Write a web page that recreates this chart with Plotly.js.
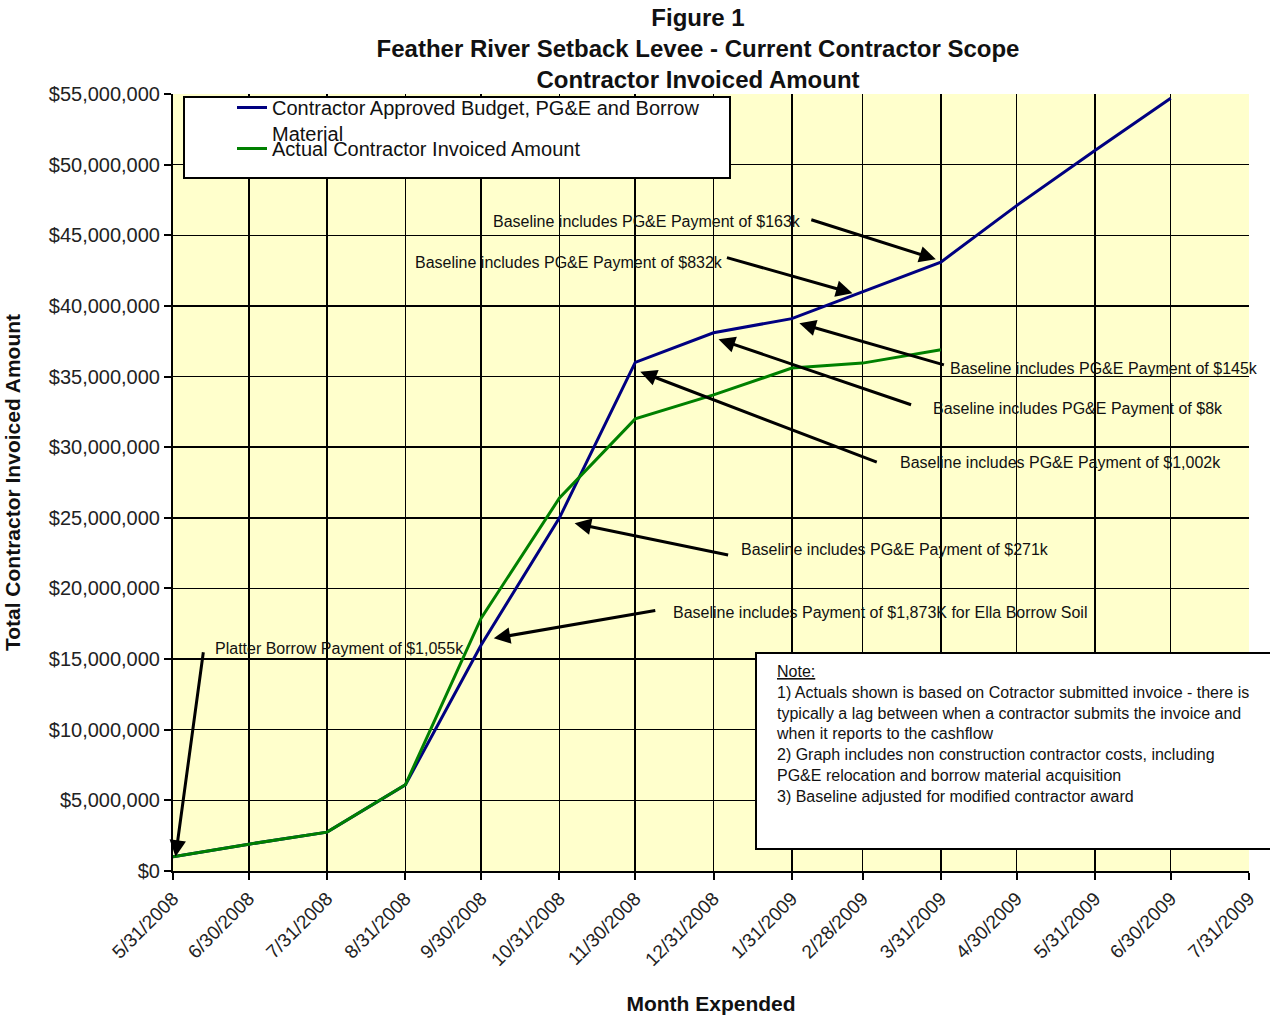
<!DOCTYPE html>
<html>
<head>
<meta charset="utf-8">
<script src="https://cdn.plot.ly/plotly-3.0.1.min.js"></script>
<style>html,body{margin:0;padding:0;background:#fff;}#chart{width:1270px;height:1019px;}</style>
</head>
<body>
<div id="chart"></div>
<script>
// ---- data ----
const months = ['2008-05-31','2008-06-30','2008-07-31','2008-08-31','2008-09-30','2008-10-31','2008-11-30',
                '2008-12-31','2009-01-31','2009-02-28','2009-03-31','2009-04-30','2009-05-31','2009-06-30'];
const tickDates = ['2008-05-31','2008-06-30','2008-07-31','2008-08-31','2008-09-30','2008-10-31','2008-11-30',
                   '2008-12-31','2009-01-31','2009-02-28','2009-03-31','2009-04-30','2009-05-31','2009-06-30','2009-07-31'];
const tickLabels = ['5/31/2008','6/30/2008','7/31/2008','8/31/2008','9/30/2008','10/31/2008','11/30/2008',
                    '12/31/2008','1/31/2009','2/28/2009','3/31/2009','4/30/2009','5/31/2009','6/30/2009','7/31/2009'];
const budgetName = 'Contractor Approved Budget, PG&E and Borrow<br>Material';
const actualName = 'Actual Contractor Invoiced Amount';
const budget = [1000000, 1900000, 2750000, 6100000, 16000000, 25000000, 36000000,
                38100000, 39100000, 41000000, 43100000, 47100000, 51000000, 54700000];
const actual = [1000000, 1900000, 2750000, 6100000, 17900000, 26400000, 32000000,
                33700000, 35600000, 35950000, 36900000];

// callouts: text, arrow head (date, value), text left edge (date, value)
const calloutText = [
  'Baseline includes PG&E Payment of $163k',
  'Baseline includes PG&E Payment of $832k',
  'Baseline includes PG&E Payment of $145k',
  'Baseline includes PG&E Payment of $8k',
  'Baseline includes PG&E Payment of $1,002k',
  'Baseline includes PG&E Payment of $271k',
  'Baseline includes Payment of $1,873K for Ella Borrow Soil',
  'Platter Borrow Payment of $1,055k'
];
const headDate  = ['2009-03-29','2009-02-24','2009-02-03','2009-01-02','2008-12-02','2008-11-06','2008-10-05','2008-06-01'];
const headValue = [43300000, 40900000, 38770000, 37640000, 35340000, 24610000, 16470000, 1010000];
const textDate  = ['2008-10-04','2008-09-03','2009-04-03','2009-03-27','2009-03-14','2009-01-10','2008-12-14','2008-06-16'];
const textValue = [46000000, 43070000, 35600000, 32770000, 28920000, 22790000, 18300000, 15760000];

const noteLines = [
  '<u>Note:</u>',
  '1) Actuals shown is based on Cotractor submitted invoice - there is',
  'typically a lag between when a contractor submits the invoice and',
  'when it reports to the cashflow',
  '2) Graph includes non construction contractor costs, including',
  'PG&E relocation and borrow material acquisition',
  '3) Baseline adjusted for modified contractor award'
];

// ---- layout helpers (pixel geometry of plot area) ----
const W = 1270, H = 1019, L = 173, R = 1249, T = 94, B = 871;
const px = x => (x - L) / (R - L);
const py = y => (B - y) / (B - T);
const arrowOff = [[-126,-40],[-127,-36],[146,42],[194,66],[238,91],[155,32],[163,-28],[28,-206]];

const FONT = 'Liberation Sans, Arial, sans-serif';

const traces = [
  {x: months, y: budget, name: budgetName, type: 'scatter', mode: 'lines', legend: 'legend',
   line: {color: '#000080', width: 3}},
  {x: months.slice(0, actual.length), y: actual, name: actualName, type: 'scatter', mode: 'lines', legend: 'legend2',
   line: {color: '#008000', width: 3}}
];

const annotations = [];
calloutText.forEach((t, i) => {
  annotations.push({x: headDate[i], y: headValue[i], xref: 'x', yref: 'y', text: '',
    showarrow: true, arrowhead: 2, arrowsize: 1.1, arrowwidth: 3, arrowcolor: '#000',
    ax: arrowOff[i][0], ay: arrowOff[i][1], standoff: 0});
  annotations.push({x: textDate[i], y: textValue[i], xref: 'x', yref: 'y', text: t,
    showarrow: false, xanchor: 'left', yanchor: 'middle',
    font: {family: FONT, size: 16, color: '#111'}});
});
annotations.push({x: px(774), y: py(661), xref: 'paper', yref: 'paper', xanchor: 'left', yanchor: 'top',
  align: 'left', showarrow: false, text: noteLines.join('<br>'),
  font: {family: FONT, size: 16, color: '#111'}});

const shapes = [
  {type: 'rect', xref: 'paper', yref: 'paper', x0: px(184), x1: px(730), y0: py(178), y1: py(97),
   fillcolor: '#fff', line: {color: '#000', width: 2}, layer: 'above'},
  {type: 'rect', xref: 'paper', yref: 'paper', x0: px(756), x1: px(1290), y0: py(849), y1: py(653),
   fillcolor: '#fff', line: {color: '#000', width: 2}, layer: 'above'}
];

const legendFont = {family: FONT, size: 20, color: '#111'};

const layout = {
  width: W, height: H,
  margin: {l: L, r: W - R, t: T, b: H - B},
  paper_bgcolor: '#fff', plot_bgcolor: '#FFFFCC',
  font: {family: FONT, color: '#111'},
  title: {text: '<b>Figure 1<br>Feather River Setback Levee - Current Contractor Scope<br>Contractor Invoiced Amount</b>',
          font: {family: FONT, size: 24, color: '#111'},
          x: px(698), xref: 'paper', xanchor: 'center', y: 1 - 26 / H, yref: 'container', yanchor: 'top'},
  xaxis: {type: 'date', range: ['2008-05-31', '2009-07-31'], tickmode: 'array', tickvals: tickDates, ticktext: tickLabels,
          tickangle: -45, tickfont: {family: FONT, size: 19, color: '#222'},
          showgrid: true, gridcolor: '#000', gridwidth: 1.5,
          showline: true, linecolor: '#000', linewidth: 2,
          ticks: 'outside', ticklen: 7, tickwidth: 2, tickcolor: '#000', zeroline: false,
          title: {text: '<b>Month Expended</b>', font: {family: FONT, size: 21, color: '#111'}, standoff: 27}},
  yaxis: {range: [0, 55000000], dtick: 5000000, tick0: 0, tickprefix: '$', tickformat: ',.0f',
          tickfont: {family: FONT, size: 20, color: '#222'},
          showgrid: true, gridcolor: '#000', gridwidth: 1.5,
          showline: true, linecolor: '#000', linewidth: 2,
          ticks: 'outside', ticklen: 7, tickwidth: 2, tickcolor: '#000', zeroline: false,
          title: {text: '<b>Total Contractor Invoiced Amount</b>', font: {family: FONT, size: 21, color: '#111'}, standoff: 22}},
  showlegend: true,
  legend: {x: px(232), y: py(88), xanchor: 'left', yanchor: 'top', bgcolor: 'rgba(0,0,0,0)', borderwidth: 0,
           valign: 'top', font: legendFont},
  legend2: {x: px(232), y: py(129), xanchor: 'left', yanchor: 'top', bgcolor: 'rgba(0,0,0,0)', borderwidth: 0,
           valign: 'top', font: legendFont},
  annotations: annotations,
  shapes: shapes
};

Plotly.newPlot('chart', traces, layout, {displayModeBar: false, staticPlot: true});
</script>
</body>
</html>
